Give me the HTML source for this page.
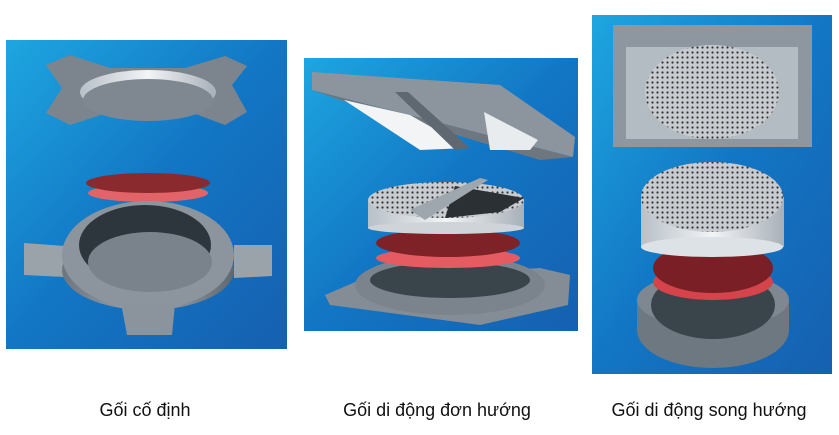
<!DOCTYPE html>
<html><head><meta charset="utf-8"><style>
body{margin:0;background:#fff;width:839px;height:435px;overflow:hidden;font-family:"Liberation Sans",sans-serif}
svg{position:absolute;left:0;top:0}
</style></head><body>
<svg width="839" height="435" viewBox="0 0 839 435">
<defs>
<linearGradient id="bg" x1="0" y1="0" x2="1" y2="1">
<stop offset="0" stop-color="#1ea6e0"/><stop offset="0.5" stop-color="#1276c4"/><stop offset="1" stop-color="#1660b0"/></linearGradient>
<linearGradient id="gr" x1="0" y1="0" x2="1" y2="0"><stop offset="0" stop-color="#6d7680"/><stop offset="0.5" stop-color="#a0a8b0"/><stop offset="1" stop-color="#5f6870"/></linearGradient>
<linearGradient id="sil" x1="0" y1="0" x2="1" y2="0"><stop offset="0" stop-color="#b8c0c8"/><stop offset="0.5" stop-color="#f2f4f6"/><stop offset="1" stop-color="#a8b0b8"/></linearGradient>
<pattern id="dots" width="5" height="5" patternUnits="userSpaceOnUse"><rect width="5" height="5" fill="#c8ccd0"/><circle cx="2.5" cy="2.5" r="1.1" fill="#333"/></pattern>
</defs>
<rect x="6" y="40" width="281" height="309" fill="url(#bg)"/>
<rect x="304" y="58" width="274" height="273" fill="url(#bg)"/>
<rect x="592" y="15" width="240" height="359" fill="url(#bg)"/>
<!-- left top -->
<path d="M46 65 L70 55 L110 68 L185 68 L225 56 L247 66 L232 85 L247 112 L225 125 L190 112 L110 112 L70 125 L46 113 L62 88Z" fill="#7c858e"/>
<ellipse cx="148" cy="92" rx="68" ry="22" fill="url(#sil)"/>
<ellipse cx="148" cy="100" rx="65" ry="21" fill="#7f8891"/>
<!-- left red -->
<ellipse cx="148" cy="193" rx="60" ry="9" fill="#e26468"/>
<ellipse cx="148" cy="183" rx="62" ry="10" fill="#8a2a2e"/>
<!-- left base -->
<path d="M24 243 L65 246 L65 277 L24 275Z" fill="#9aa2aa"/>
<path d="M234 245 L272 245 L272 276 L234 278Z" fill="#9aa2aa"/>
<ellipse cx="148" cy="270" rx="86" ry="40" fill="url(#gr)"/>
<ellipse cx="148" cy="255" rx="86" ry="54" fill="#8c959d"/>
<ellipse cx="145" cy="245" rx="66" ry="40" fill="#2d363c"/>
<ellipse cx="150" cy="262" rx="62" ry="30" fill="#7a838b"/>
<path d="M121 303 L175 303 L172 335 L127 335Z" fill="#8b949c"/>
<!-- middle top plate -->
<path d="M312 72 L500 85 L575 137 L573 157 L312 90Z" fill="#8c959d"/>
<path d="M312 90 L573 157 L540 160 L340 100Z" fill="#6e7780"/>
<path d="M344 100 L410 115 L468 148 L420 150Z" fill="#f2f4f5"/>
<path d="M484 112 L538 140 L530 150 L490 150Z" fill="#e8ecef"/>
<path d="M395 92 L408 92 L470 148 L455 150Z" fill="#5f6870"/>
<!-- middle base -->
<path d="M325 295 L360 280 L540 268 L570 275 L568 305 L480 325 L330 305Z" fill="#848d95"/>
<ellipse cx="450" cy="285" rx="95" ry="30" fill="#7b848c"/>
<ellipse cx="450" cy="280" rx="80" ry="18" fill="#39444b"/>
<ellipse cx="448" cy="258" rx="72" ry="10" fill="#e45c62"/>
<ellipse cx="448" cy="243" rx="72" ry="14" fill="#7e2228"/>
<rect x="368" y="200" width="156" height="28" fill="url(#sil)"/>
<ellipse cx="446" cy="228" rx="78" ry="6" fill="#cfd4d8"/>
<ellipse cx="446" cy="200" rx="78" ry="18" fill="url(#dots)"/>
<path d="M455 186 L524 198 L500 212 L445 218Z" fill="#2a3034"/>
<path d="M410 210 L480 178 L488 180 L425 220Z" fill="#9ea7ae"/>
<!-- right plate -->
<rect x="613" y="25" width="199" height="122" fill="#8e979f"/>
<rect x="626" y="47" width="172" height="92" fill="#b4bcc3"/>
<ellipse cx="712" cy="92" rx="67" ry="47" fill="url(#dots)"/>
<!-- right base -->
<ellipse cx="713" cy="330" rx="76" ry="38" fill="#6e7880"/>
<rect x="637" y="300" width="152" height="30" fill="#6e7880"/>
<ellipse cx="713" cy="300" rx="76" ry="28" fill="#7f8890"/>
<ellipse cx="713" cy="305" rx="62" ry="34" fill="#3a444b"/>
<ellipse cx="713" cy="282" rx="60" ry="18" fill="#d5434b"/>
<ellipse cx="713" cy="268" rx="60" ry="25" fill="#7a1f26"/>
<rect x="641" y="197" width="143" height="50" fill="url(#sil)"/>
<ellipse cx="712" cy="247" rx="71" ry="10" fill="#dde2e6"/>
<ellipse cx="712" cy="197" rx="71" ry="35" fill="url(#dots)"/>
<g font-size="18" fill="#111" text-anchor="middle" font-family="Liberation Sans, sans-serif">
<text x="145" y="416">Gối cố định</text>
<text x="437" y="416">Gối di động đơn hướng</text>
<text x="709" y="416">Gối di động song hướng</text>
</g>
</svg>
</body></html>
